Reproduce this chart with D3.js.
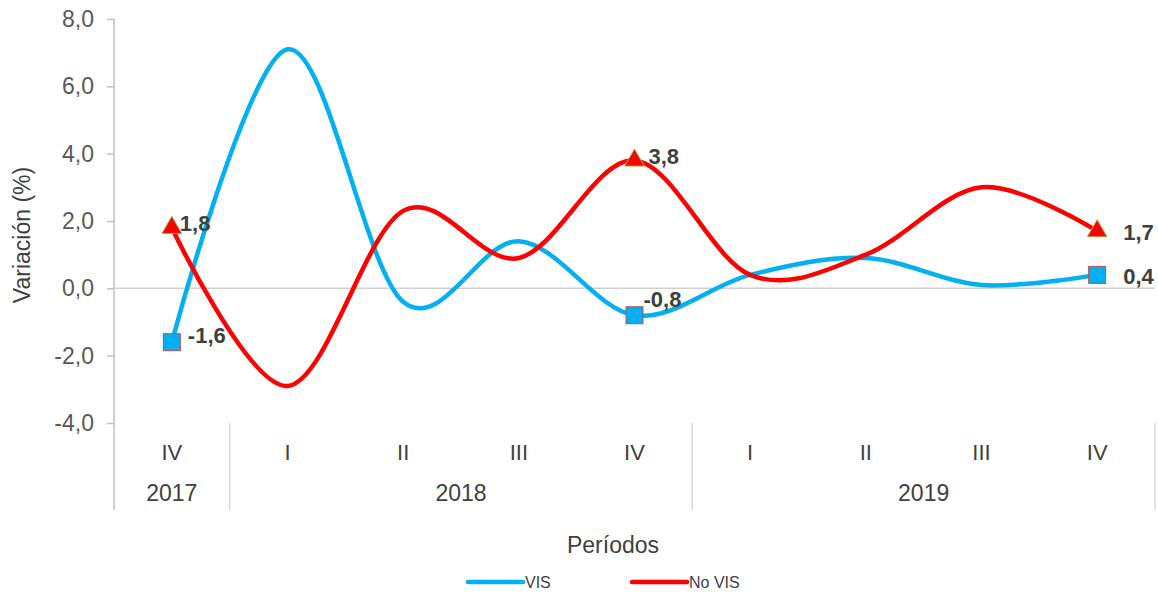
<!DOCTYPE html>
<html>
  <head>
    <meta charset="utf-8">
    <title>Variación VIS / No VIS</title>
    <script src="https://d3js.org/d3.v7.min.js"></script>
    <style>
      body { margin: 0; background: #fff; font-family: "Liberation Sans", Arial, sans-serif; }
      .tick text { fill: #595959; }
    </style>
  </head>
  <body>
    <svg id="chart" width="1158" height="594"></svg>
    <script>
      // data
      var quarters = ["IV", "I", "II", "III", "IV", "I", "II", "III", "IV"];
      var years = ["2017", "2018", "2018", "2018", "2018", "2019", "2019", "2019", "2019"];
      var vis = [-1.6, 7.1, -0.4, 1.4, -0.8, 0.4, 0.9, 0.1, 0.4];
      var noVis = [1.8, -2.9, 2.3, 0.9, 3.8, 0.4, 1.0, 3.0, 1.7];
      var yTicks = [-4, -2, 0, 2, 4, 6, 8];
      var labelled = [0, 4, 8];

      // label nudges (dx, dy) for each labelled point
      var visNudge = { 0: [16, -5], 4: [9, -14], 8: [26, 3] };
      var noVisNudge = { 0: [8, -3], 4: [14, -2], 8: [26, 3] };

      var svg = d3.select("#chart");
      var plotLeft = 114, plotRight = 1155, plotTop = 19, plotBottom = 423, catBottom = 510;
      var fmt = function(v) { return d3.format(".1f")(v).replace(".", ",").replace("−", "-"); };

      var x = d3.scaleBand()
        .domain(d3.range(quarters.length))
        .range([plotLeft, plotRight]);
      var cx = function(i) { return x(i) + x.bandwidth() / 2; };
      var y = d3.scaleLinear()
        .domain([-4, 8])
        .range([plotBottom, plotTop]);

      // y axis
      var yAxis = svg.append("g")
        .attr("transform", "translate(" + plotLeft + ",0)")
        .call(d3.axisLeft(y).tickValues(yTicks).tickSize(7).tickPadding(13).tickFormat(fmt));
      yAxis.select(".domain").remove();
      yAxis.selectAll("line").attr("stroke", "#bfbfbf").attr("stroke-width", 1.5);
      yAxis.selectAll("text").style("font-size", "23px");
      svg.append("line")
        .attr("x1", plotLeft).attr("x2", plotLeft)
        .attr("y1", plotTop).attr("y2", catBottom)
        .attr("stroke", "#bfbfbf").attr("stroke-width", 1.5);

      // zero line
      svg.append("line")
        .attr("x1", plotLeft).attr("x2", plotRight)
        .attr("y1", y(0)).attr("y2", y(0))
        .attr("stroke", "#d0d0d0").attr("stroke-width", 1.5);

      // category separators (year boundaries + end)
      var seps = d3.range(1, quarters.length).filter(function(i) { return years[i] !== years[i - 1]; })
        .map(function(i) { return x(i); }).concat([plotRight]);
      svg.selectAll(".sep")
        .data(seps)
        .enter().append("line")
          .attr("x1", function(d) { return d; }).attr("x2", function(d) { return d; })
          .attr("y1", plotBottom).attr("y2", catBottom)
          .attr("stroke", "#d0d0d0").attr("stroke-width", 1.2);

      // quarter labels
      svg.selectAll(".q")
        .data(quarters)
        .enter().append("text")
          .attr("x", function(d, i) { return cx(i); })
          .attr("y", 460)
          .attr("text-anchor", "middle")
          .style("font-size", "22px")
          .style("fill", "#404040")
          .text(function(d) { return d; });

      // year labels, centred on each group
      var yearGroups = d3.groups(d3.range(years.length), function(i) { return years[i]; });
      svg.selectAll(".yr")
        .data(yearGroups)
        .enter().append("text")
          .attr("x", function(g) {
            var idx = g[1];
            return (x(idx[0]) + x(idx[idx.length - 1]) + x.bandwidth()) / 2;
          })
          .attr("y", 501)
          .attr("text-anchor", "middle")
          .style("font-size", "23px")
          .style("fill", "#404040")
          .text(function(g) { return g[0]; });

      // axis titles
      svg.append("text")
        .attr("transform", "translate(30,235) rotate(-90)")
        .attr("text-anchor", "middle")
        .style("font-size", "23px")
        .style("fill", "#404040")
        .text("Variación (%)");
      svg.append("text")
        .attr("x", 613).attr("y", 553)
        .attr("text-anchor", "middle")
        .style("font-size", "23px")
        .style("fill", "#404040")
        .text("Períodos");

      // lines
      var line = d3.line()
        .x(function(d, i) { return cx(i); })
        .y(function(d) { return y(d); })
        .curve(d3.curveCardinal.tension(0));
      svg.append("path")
        .attr("d", line(vis))
        .attr("fill", "none").attr("stroke", "#00b0f0").attr("stroke-width", 4.5);
      svg.append("path")
        .attr("d", line(noVis))
        .attr("fill", "none").attr("stroke", "#ff0000").attr("stroke-width", 4.5);

      // markers
      svg.selectAll(".sq")
        .data(labelled)
        .enter().append("rect")
          .attr("x", function(i) { return cx(i) - 8.5; })
          .attr("y", function(i) { return y(vis[i]) - 8.5; })
          .attr("width", 17).attr("height", 17)
          .attr("fill", "#00b0f0").attr("stroke", "#c0504d").attr("stroke-width", 1);
      svg.selectAll(".tri")
        .data(labelled)
        .enter().append("path")
          .attr("d", d3.symbol(d3.symbolTriangle, 170))
          .attr("transform", function(i) { return "translate(" + cx(i) + "," + y(noVis[i]) + ")"; })
          .attr("fill", "#ff0000").attr("stroke", "#9bbb59").attr("stroke-width", 1);

      // data labels
      function addLabels(values, nudge) {
        svg.selectAll(null)
          .data(labelled)
          .enter().append("text")
            .attr("x", function(i) { return cx(i) + nudge[i][0]; })
            .attr("y", function(i) { return y(values[i]) + nudge[i][1]; })
            .attr("dominant-baseline", "middle")
            .style("font-size", "22px")
            .style("font-weight", "bold")
            .style("fill", "#404040")
            .text(function(i) { return fmt(values[i]); });
      }
      addLabels(vis, visNudge);
      addLabels(noVis, noVisNudge);

      // legend
      var legend = [
        { name: "VIS", color: "#00b0f0", x: 468 },
        { name: "No VIS", color: "#ff0000", x: 632 }
      ];
      var lg = svg.selectAll(".lg")
        .data(legend)
        .enter().append("g")
          .attr("transform", function(d) { return "translate(" + d.x + ",582)"; });
      lg.append("line")
        .attr("x1", 0).attr("x2", 55)
        .attr("stroke", function(d) { return d.color; })
        .attr("stroke-width", 4.5)
        .attr("stroke-linecap", "round");
      lg.append("text")
        .attr("x", 57).attr("dy", "0.35em")
        .style("font-size", "16px")
        .style("fill", "#404040")
        .text(function(d) { return d.name; });
    </script>
  </body>
</html>
